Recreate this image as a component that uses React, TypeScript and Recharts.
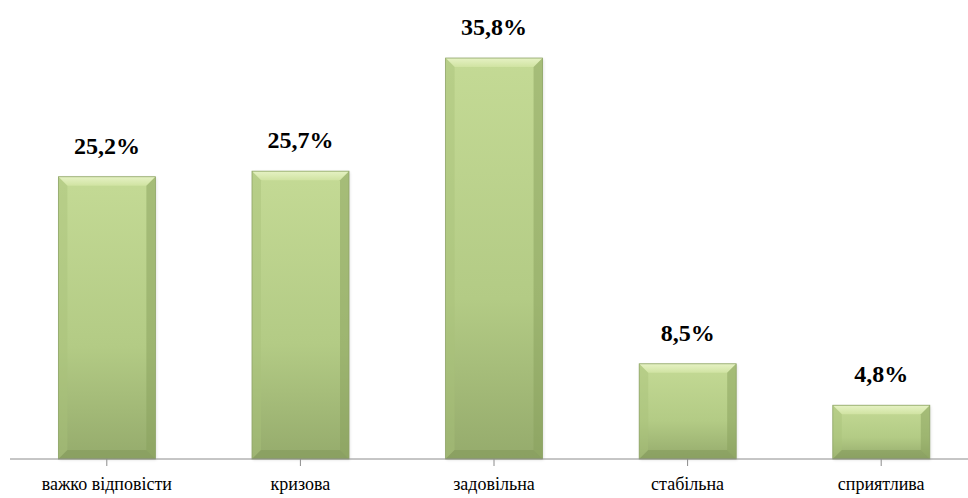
import { BarChart, Bar, XAxis, YAxis, LabelList } from "recharts";

const categories = ["важко відповісти", "кризова", "задовільна", "стабільна", "сприятлива"];
const shares = [25.2, 25.7, 35.8, 8.5, 4.8];

const data = categories.map((name, i) => ({ name, value: shares[i] }));

const SERIF = "Liberation Serif";

function BevelBar(props: any) {
  const { x, y, width, height } = props;
  if (!height || height <= 0) return null;
  const b = Math.min(9, height / 3);
  return (
    <g>
      <rect x={x + 1} y={y + 1} width={width} height={height} fill="#000" opacity={0.12} filter="url(#blur)" />
      <rect x={x} y={y} width={width} height={height} fill="url(#body)" />
      {/* bevel edges */}
      <polygon points={`${x},${y} ${x + width},${y} ${x + width - b},${y + b} ${x + b},${y + b}`} fill="url(#topBevel)" />
      <polygon points={`${x},${y} ${x + b},${y + b} ${x + b},${y + height - b} ${x},${y + height}`} fill="#a8c07a" opacity={0.45} />
      <polygon points={`${x + width},${y} ${x + width - b},${y + b} ${x + width - b},${y + height - b} ${x + width},${y + height}`} fill="#87a05c" opacity={0.5} />
      <polygon points={`${x},${y + height} ${x + b},${y + height - b} ${x + width - b},${y + height - b} ${x + width},${y + height}`} fill="#7f9657" opacity={0.5} />
      <rect x={x} y={y} width={width} height={height} fill="none" stroke="#8ea466" strokeWidth={0.8} />
    </g>
  );
}

function CatTick(props: any) {
  const { x, y, payload } = props;
  return (
    <text x={x} y={y + 22} textAnchor="middle" fill="#000" fontFamily={SERIF} fontSize={18}>
      {payload.value}
    </text>
  );
}

function ValueLabel(props: any) {
  const { x, y, width, value } = props;
  return (
    <text x={x + width / 2} y={y - 23} textAnchor="middle" fill="#000" fontFamily={SERIF} fontSize={24} fontWeight={700}>
      {`${String(value).replace(".", ",")}%`}
    </text>
  );
}

export default function App() {
  return (
    <div style={{ position: "absolute", left: 0, top: 0, width: 968, height: 498, overflow: "hidden", background: "#fff" }}>
      <BarChart
        width={990}
        height={498}
        data={data}
        margin={{ top: 11, right: 12, bottom: 9, left: 10 }}
        barCategoryGap="25%"
      >
        <defs>
          <linearGradient id="body" x1="0" y1="0" x2="0" y2="1">
            <stop offset="0%" stopColor="#c4da95" />
            <stop offset="60%" stopColor="#b3cb85" />
            <stop offset="100%" stopColor="#95ab6c" />
          </linearGradient>
          <linearGradient id="topBevel" x1="0" y1="0" x2="0" y2="1">
            <stop offset="0%" stopColor="#e6f2c4" />
            <stop offset="100%" stopColor="#d0e3a2" />
          </linearGradient>
          <filter id="blur" x="-10%" y="-10%" width="120%" height="120%">
            <feGaussianBlur stdDeviation="1.5" />
          </filter>
        </defs>
        <XAxis
          dataKey="name"
          interval={0}
          height={30}
          stroke="#8c8c8c"
          tickSize={7}
          tickLine={{ stroke: "#8c8c8c" }}
          tick={<CatTick />}
          scale="band"
        />
        <YAxis hide domain={[0, 40]} />
        <Bar dataKey="value" isAnimationActive={false} shape={<BevelBar />}>
          <LabelList dataKey="value" content={<ValueLabel />} />
        </Bar>
      </BarChart>
    </div>
  );
}
